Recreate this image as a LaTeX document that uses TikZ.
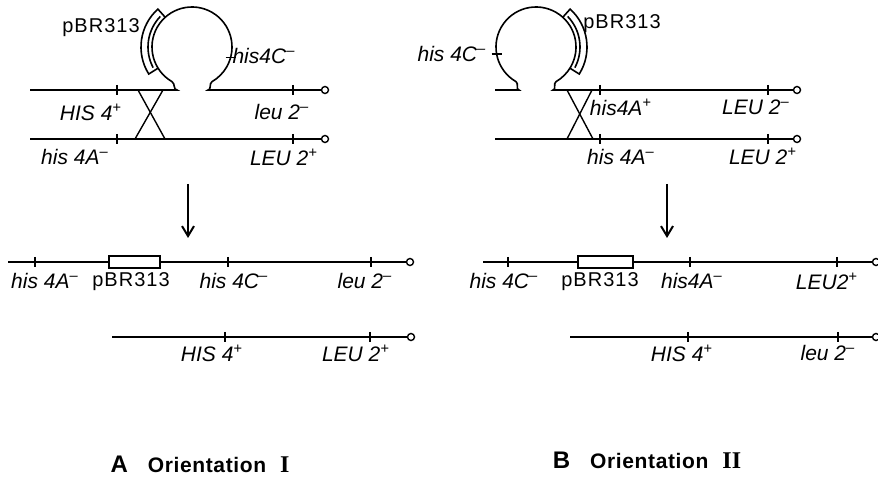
\documentclass[tikz,border=0pt]{standalone}
\usepackage{fontspec}
\usetikzlibrary{calc,arrows.meta}

\newfontfamily\genefont{Liberation Sans}
\newfontfamily\plasfont{Liberation Sans}[LetterSpace=5]
\newfontfamily\headfont{Liberation Sans}[LetterSpace=3]
\newfontfamily\numfont{Liberation Serif}

\newcommand\gplus{\textsuperscript{+}}
\newcommand\gminus{\textsuperscript{\textendash}}

\tikzset{
  chrom/.style={line width=0.8pt},
  gene/.style={inner sep=0pt, font=\genefont\itshape\fontsize{10.5}{12}\selectfont},
  plas/.style={inner sep=0pt, font=\plasfont\fontsize{10}{12}\selectfont},
  title/.style={inner sep=0pt, anchor=base},
  tipend/.style={draw, circle, line width=0.7pt, inner sep=0pt, minimum size=3.5pt},
  insert/.style={draw, rectangle, line width=0.8pt, fill=white, inner sep=0pt, minimum height=6pt},
}

\begin{document}
\begin{tikzpicture}[x=0.5pt, y=0.5pt]
  \useasboundingbox (0,0) rectangle (878,-480);

  %%%%%%%%%%%%%%%% Orientation I %%%%%%%%%%%%%%%%
  % plasmid loop on the upper chromosome
  \coordinate (ca) at (192,-47);
  \coordinate (a1s) at (30,-90);
  \coordinate (a1f) at (177,-90);
  \coordinate (a1g) at (208,-90);
  \node[tipend] (a1e) at (325,-90) {};
  \draw[chrom] (a1s) -- (a1f) to[out=180, in=-30] ($(ca)+(240:40)$)
    arc[start angle=240, end angle=-60, radius=40] to[out=210, in=0] (a1g) -- (a1e);

  % pBR313 segment on the loop
  \draw[chrom] ($(ca)+(132:40)$) -- ($(ca)+(132:51)$) arc[start angle=132, end angle=212, radius=51] -- ($(ca)+(212:40)$);
  \draw[chrom] ($(ca)+(136:44)$) arc[start angle=136, end angle=208, radius=44];

  % his4C marker on the loop
  \draw[chrom] ($(ca)+(-15:40)+(-5,0)$) -- ($(ca)+(-15:40)+(5,0)$);

  % lower chromosome
  \coordinate (a2s) at (30,-139);
  \node[tipend] (a2e) at (325,-139) {};
  \draw[chrom] (a2s) -- (a2e);

  \foreach \x in {117,293} {
    \draw[chrom] (\x,-85) -- (\x,-95);
    \draw[chrom] (\x,-134) -- (\x,-144);
  }

  % crossover
  \coordinate (xa1) at (138,-90);
  \coordinate (xa2) at (163,-90);
  \coordinate (xa3) at (135,-139);
  \coordinate (xa4) at (165,-139);
  \draw[line width=0.7pt] (xa1) -- (xa4);
  \draw[line width=0.7pt] (xa2) -- (xa3);

  \node[plas] (pa1) at (101,-28) {pBR313};
  \node[gene] (ga1) at (264,-56) {his4C\gminus};
  \node[gene] (ga2) at (91,-112) {HIS 4\gplus};
  \node[gene] (ga3) at (282,-112) {leu 2\gminus};
  \node[gene] (ga4) at (75,-157) {his 4A\gminus};
  \node[gene] (ga5) at (284,-157) {LEU 2\gplus};

  % arrow
  \coordinate (arrA1) at (188,-184);
  \coordinate (arrA2) at (188,-238);
  \draw[line width=1pt, -{Straight Barb[length=5pt, width=6pt, line width=1pt]}] (arrA1) -- (arrA2);

  % products
  \coordinate (a3s) at (8,-262);
  \node[tipend] (a3e) at (410,-262) {};
  \draw[chrom] (a3s) -- (a3e);
  \foreach \x in {35,228,371}
    \draw[chrom] (\x,-257) -- (\x,-267);
  \node[insert, minimum width=25.5pt] (insA) at (134.5,-262) {};

  \node[gene] (ga6) at (45,-281) {his 4A\gminus};
  \node[plas] (pa2) at (131,-282) {pBR313};
  \node[gene] (ga7) at (234,-281) {his 4C\gminus};
  \node[gene] (ga8) at (365,-281) {leu 2\gminus};

  \coordinate (a4s) at (112,-337);
  \node[tipend] (a4e) at (411,-337) {};
  \draw[chrom] (a4s) -- (a4e);
  \foreach \x in {225,370}
    \draw[chrom] (\x,-332) -- (\x,-342);

  \node[gene] (ga9) at (212,-353) {HIS 4\gplus};
  \node[gene] (ga10) at (356,-353) {LEU 2\gplus};

  \node[title] (ta) at (200,-473) {{\genefont\bfseries\fontsize{12}{12}\selectfont A}\hspace{10pt}{\headfont\bfseries\fontsize{10.5}{12}\selectfont Orientation}\hspace{7pt}{\numfont\bfseries\fontsize{12}{12}\selectfont I}};

  %%%%%%%%%%%%%%%% Orientation II %%%%%%%%%%%%%%%%
  \coordinate (cb) at (536,-47);
  \coordinate (b1s) at (495,-90);
  \coordinate (b1f) at (519,-90);
  \coordinate (b1g) at (553,-90);
  \node[tipend] (b1e) at (797,-90) {};
  \draw[chrom] (b1s) -- (b1f) to[out=180, in=-30] ($(cb)+(240:40)$)
    arc[start angle=240, end angle=-60, radius=40] to[out=210, in=0] (b1g) -- (b1e);

  \draw[chrom] ($(cb)+(48:40)$) -- ($(cb)+(48:51)$) arc[start angle=48, end angle=-32, radius=51] -- ($(cb)+(-32:40)$);
  \draw[chrom] ($(cb)+(44:44)$) arc[start angle=44, end angle=-28, radius=44];

  \draw[chrom] ($(cb)+(190:40)+(-5,0)$) -- ($(cb)+(190:40)+(5,0)$);

  \coordinate (b2s) at (495,-139);
  \node[tipend] (b2e) at (797,-139) {};
  \draw[chrom] (b2s) -- (b2e);

  \foreach \x in {600,768} {
    \draw[chrom] (\x,-85) -- (\x,-95);
    \draw[chrom] (\x,-134) -- (\x,-144);
  }

  \coordinate (xb1) at (567,-90);
  \coordinate (xb2) at (592,-90);
  \coordinate (xb3) at (567,-139);
  \coordinate (xb4) at (593,-139);
  \draw[line width=0.7pt] (xb1) -- (xb4);
  \draw[line width=0.7pt] (xb2) -- (xb3);

  \node[plas] (pb1) at (622,-24) {pBR313};
  \node[gene] (gb1) at (452,-54) {his 4C\gminus};
  \node[gene] (gb2) at (621,-107) {his4A\gplus};
  \node[gene] (gb3) at (756,-107) {LEU 2\gminus};
  \node[gene] (gb4) at (621,-157) {his 4A\gminus};
  \node[gene] (gb5) at (763,-156) {LEU 2\gplus};

  \coordinate (arrB1) at (667,-184);
  \coordinate (arrB2) at (667,-238);
  \draw[line width=1pt, -{Straight Barb[length=5pt, width=6pt, line width=1pt]}] (arrB1) -- (arrB2);

  \coordinate (b3s) at (483,-262);
  \node[tipend] (b3e) at (876,-262) {};
  \draw[chrom] (b3s) -- (b3e);
  \foreach \x in {508,690,837}
    \draw[chrom] (\x,-257) -- (\x,-267);
  \node[insert, minimum width=27.5pt] (insB) at (605.5,-262) {};

  \node[gene] (gb6) at (504,-281) {his 4C\gminus};
  \node[plas] (pb2) at (600,-282) {pBR313};
  \node[gene] (gb7) at (692,-281) {his4A\gminus};
  \node[gene] (gb8) at (827,-281) {LEU2\gplus};

  \coordinate (b4s) at (570,-337);
  \node[tipend] (b4e) at (876,-337) {};
  \draw[chrom] (b4s) -- (b4e);
  \foreach \x in {688,838}
    \draw[chrom] (\x,-332) -- (\x,-342);

  \node[gene] (gb9) at (682,-353) {HIS 4\gplus};
  \node[gene] (gb10) at (828,-353) {leu 2\gminus};

  \node[title] (tb) at (647,-468) {{\genefont\bfseries\fontsize{12}{12}\selectfont B}\hspace{10pt}{\headfont\bfseries\fontsize{10.5}{12}\selectfont Orientation}\hspace{7pt}{\numfont\bfseries\fontsize{12}{12}\selectfont II}};
\end{tikzpicture}
\end{document}
